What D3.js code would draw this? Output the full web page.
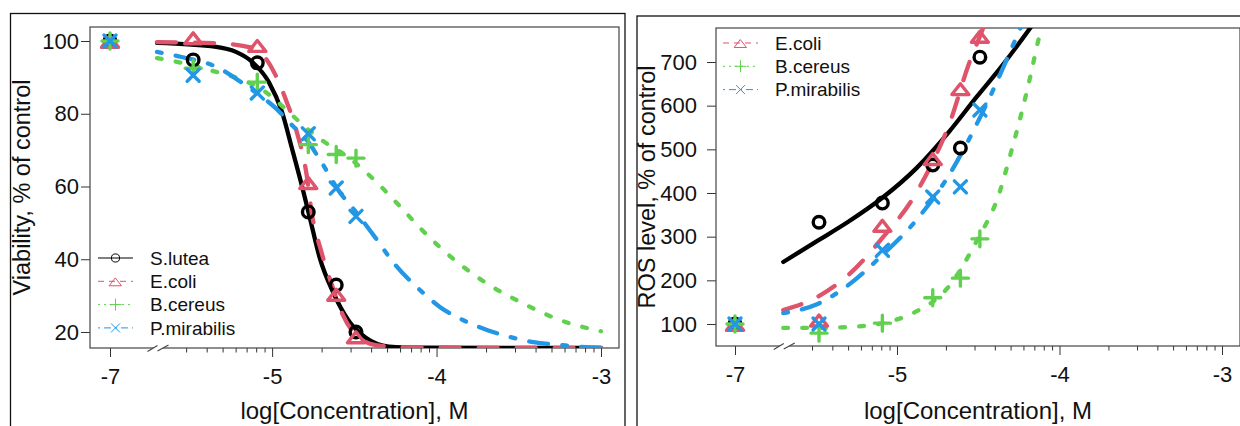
<!DOCTYPE html>
<html>
<head>
<meta charset="utf-8">
<script src="https://cdn.jsdelivr.net/npm/d3@7"></script>
<style>
  body { margin: 0; background: #fff; }
  svg { display: block; font-family: "Liberation Sans", Arial, Helvetica, sans-serif; }
</style>
</head>
<body>
<svg id="chart" width="1240" height="426"></svg>
<script>
// ---------------------------------------------------------------
// Data: log10 concentration (M); the untreated control sits on the
// broken part of the axis at -7.
// ---------------------------------------------------------------
const strains = ["S.lutea", "E.coli", "B.cereus", "P.mirabilis"];
const controlDose = -7;
const logDoses = [-5.48, -5.09, -4.78, -4.61, -4.49];

// Viability, % of control (control value first, then each dose)
const viabSLutea     = [100, 94.8, 94.0, 53.0, 32.9, 20.0];
const viabEColi      = [100, 101.0, 98.9, 61.2, 30.5, 18.8];
const viabBCereus    = [100, 92.5, 88.7, 71.5, 68.8, 67.8];
const viabPMirabilis = [100, 90.6, 85.7, 74.5, 59.6, 51.8];

// ROS level, % of control
const rosSLutea     = [100, 333, 377, 464, 503, 711];
const rosEColi      = [100, 110, 327, 480, 640, 760];
const rosBCereus    = [100, 79, 102, 160, 205, 295];
const rosPMirabilis = [100, 100, 269, 391, 414, 590];

// Fitted dose-response curves: [log10 dose, value]
const viabFitSLutea = [[-5.70, 99.5], [-5.34, 98.4], [-5.22, 97.0], [-5.12, 94.2], [-5.02, 88.7],
  [-4.94, 80.5], [-4.88, 70.6], [-4.82, 60.4], [-4.77, 51.3], [-4.71, 40.3], [-4.63, 31.0],
  [-4.53, 22.8], [-4.43, 18.4], [-4.29, 16.0], [-4.10, 15.7], [-3.50, 15.6], [-3.00, 15.6]];
const viabFitEColi = [[-5.70, 99.7], [-5.34, 99.4], [-5.14, 98.3], [-5.04, 95.3], [-4.98, 90.7],
  [-4.92, 84.3], [-4.85, 75.0], [-4.79, 63.2], [-4.76, 53.0], [-4.70, 42.0], [-4.63, 32.1],
  [-4.57, 24.7], [-4.49, 19.2], [-4.37, 16.4], [-4.20, 15.8], [-3.50, 15.6], [-3.00, 15.6]];
const viabFitBCereus = [[-5.70, 95.3], [-5.55, 94.0], [-5.34, 91.5], [-5.18, 89.3], [-5.04, 86.0],
  [-4.90, 80.5], [-4.79, 76.0], [-4.70, 72.8], [-4.53, 67.8], [-4.33, 59.6], [-4.23, 54.9],
  [-4.07, 47.2], [-3.89, 39.8], [-3.70, 33.5], [-3.48, 28.0], [-3.25, 23.3], [-3.00, 20.2]];
const viabFitPMirabilis = [[-5.70, 97.0], [-5.55, 95.6], [-5.34, 92.9], [-5.14, 87.1], [-4.98, 81.6],
  [-4.88, 76.9], [-4.79, 72.8], [-4.70, 66.7], [-4.59, 58.5], [-4.49, 53.0], [-4.37, 45.8],
  [-4.25, 38.4], [-4.10, 31.5], [-3.98, 26.9], [-3.84, 23.3], [-3.69, 20.5], [-3.55, 18.6],
  [-3.41, 17.2], [-3.24, 16.4], [-3.12, 15.9], [-3.00, 15.6]];

const rosFitSLutea = [[-5.70, 242], [-5.50, 288], [-5.30, 334], [-5.09, 389], [-4.88, 457],
  [-4.68, 540], [-4.51, 620], [-4.35, 693], [-4.18, 778], [-4.10, 820]];
const rosFitEColi = [[-5.70, 132], [-5.50, 160], [-5.30, 212], [-5.09, 297], [-4.89, 395],
  [-4.79, 464], [-4.68, 556], [-4.56, 693], [-4.47, 778], [-4.42, 830]];
const rosFitBCereus = [[-5.70, 91], [-5.49, 91], [-5.30, 93], [-5.09, 102], [-4.89, 127],
  [-4.69, 182], [-4.51, 290], [-4.37, 400], [-4.30, 491], [-4.24, 574], [-4.18, 666],
  [-4.13, 750], [-4.11, 778], [-4.09, 810]];
const rosFitPMirabilis = [[-5.70, 125], [-5.50, 144], [-5.30, 189], [-5.09, 258], [-4.89, 334],
  [-4.68, 441], [-4.52, 550], [-4.38, 659], [-4.30, 727], [-4.24, 778], [-4.20, 815]];

// Axis ticks
const xMajorTicks = [-7, -5, -4, -3];
const xMinorDecades = [-6, -5, -4];
const xMinorMultipliers = [2, 3, 4, 5, 6, 7, 8, 9];
const viabTicks = [20, 40, 60, 80, 100];
const rosTicks = [100, 200, 300, 400, 500, 600, 700];

// ---------------------------------------------------------------
// Styling per strain
// ---------------------------------------------------------------
const palette = { "S.lutea": "#000000", "E.coli": "#DF536B", "B.cereus": "#61D04F", "P.mirabilis": "#2297E6" };
const u = 4.75; // dash unit for thick fitted lines
const curveDash = { "S.lutea": null, "E.coli": [4 * u, 4 * u], "B.cereus": [u, 3 * u], "P.mirabilis": [u, 3 * u, 4 * u, 3 * u] };
const legendDash = { "S.lutea": null, "E.coli": [6, 5], "B.cereus": [2, 4], "P.mirabilis": [2, 4, 7, 4] };
const shapeOf = { "S.lutea": "circle", "E.coli": "triangle", "B.cereus": "plus", "P.mirabilis": "cross" };

function symbolPath(shape, k) {
  switch (shape) {
    case "triangle": { const w = 8.5 * k, h = 7.5 * k; return `M0,${-h * 0.6}L${w},${h * 0.85}L${-w},${h * 0.85}Z`; }
    case "plus": { const s = 8 * k; return `M${-s},0H${s}M0,${-s}V${s}`; }
    case "cross": { const s = 6 * k; return `M${-s},${-s}L${s},${s}M${-s},${s}L${s},${-s}`; }
    default: return null;
  }
}

function drawSymbol(g, shape, x, y, color, k, sw) {
  if (shape === "circle") {
    g.append("circle").attr("cx", x).attr("cy", y).attr("r", 5.8 * k)
      .attr("fill", "none").attr("stroke", color).attr("stroke-width", sw);
  } else {
    g.append("path").attr("transform", `translate(${x},${y})`).attr("d", symbolPath(shape, k))
      .attr("fill", "none").attr("stroke", color).attr("stroke-width", sw)
      .attr("stroke-linecap", "round").attr("stroke-linejoin", "round");
  }
}

const svg = d3.select("#chart");
const tickFont = 22;

function panel(cfg) {
  const { frame, box, xRange, yScale, yTicks, yTitle, values, fits, legendNames, legendPos } = cfg;

  // outer figure frame
  svg.append("rect").attr("x", frame.x).attr("y", frame.y).attr("width", frame.w).attr("height", frame.h)
    .attr("fill", "none").attr("stroke", "#111").attr("stroke-width", 1.3);

  const x = d3.scaleLinear().domain([controlDose, -5.7, -3]).range(xRange);
  const y = yScale;

  const clipId = "clip" + box.x0;
  svg.append("clipPath").attr("id", clipId).append("rect")
    .attr("x", box.x0).attr("y", box.y0).attr("width", box.x1 - box.x0).attr("height", box.y1 - box.y0);

  // y axis
  const yAxis = svg.append("g").attr("transform", `translate(${box.x0},0)`)
    .call(d3.axisLeft(y).tickValues(yTicks).tickSize(9).tickPadding(cfg.yPad).tickFormat(d3.format("d")));
  yAxis.select(".domain").remove();
  yAxis.selectAll("line").attr("stroke", "#333");
  yAxis.selectAll("text").attr("font-size", tickFont).attr("fill", "#111").attr("font-family", "Liberation Sans, Arial, sans-serif");

  // x axis: minor log ticks, then labelled major ticks
  const minor = [];
  xMinorDecades.forEach(dec => xMinorMultipliers.forEach(m => {
    const v = dec + Math.log10(m);
    if (v > -5.6 && v < -3) minor.push(v);
  }));
  const xMinor = svg.append("g").attr("transform", `translate(0,${box.y1})`)
    .call(d3.axisBottom(x).tickValues(minor).tickSize(4.5).tickFormat(""));
  xMinor.select(".domain").remove();
  xMinor.selectAll("line").attr("stroke", "#333");

  const xAxis = svg.append("g").attr("transform", `translate(0,${box.y1})`)
    .call(d3.axisBottom(x).tickValues(xMajorTicks).tickSize(9).tickPadding(11).tickFormat(d3.format("d")));
  xAxis.select(".domain").remove();
  xAxis.selectAll("line").attr("stroke", "#333");
  xAxis.selectAll("text").attr("font-size", tickFont).attr("fill", "#111").attr("font-family", "Liberation Sans, Arial, sans-serif")
    .text(d => (d < 0 ? "-" : "") + Math.abs(d));

  // plot box
  svg.append("rect").attr("x", box.x0).attr("y", box.y0).attr("width", box.x1 - box.x0).attr("height", box.y1 - box.y0)
    .attr("fill", "none").attr("stroke", "#444").attr("stroke-width", 1.2);

  // axis break marks on the bottom axis
  const bx = x(-5.7) + 1.5, by = box.y1;
  const brk = svg.append("g");
  brk.append("path").attr("d", `M${bx - 9},${by + 3.5}L${bx - 2},${by - 3}L${bx + 8},${by - 3.5}L${bx + 1},${by + 3}Z`)
    .attr("fill", "#fff");
  brk.append("path").attr("d", `M${bx - 11},${by + 3.5}L${bx - 1},${by - 2.5}M${bx - 1},${by + 3}L${bx + 10},${by - 3}`)
    .attr("stroke", "#444").attr("stroke-width", 1.1).attr("fill", "none");

  // axis titles
  svg.append("text").attr("x", (box.x0 + box.x1) / 2).attr("y", 419).attr("text-anchor", "middle")
    .attr("font-size", 24).attr("fill", "#111").text("log[Concentration], M");
  svg.append("text").attr("transform", `translate(${cfg.yTitleX},${(box.y0 + box.y1) / 2}) rotate(-90)`)
    .attr("text-anchor", "middle").attr("font-size", 23.5).attr("fill", "#111").text(yTitle);

  // fitted curves
  const plot = svg.append("g").attr("clip-path", `url(#${clipId})`);
  const line = d3.line().x(d => x(d[0])).y(d => y(d[1])).curve(d3.curveMonotoneX);
  strains.forEach(s => {
    plot.append("path").datum(fits[s]).attr("d", line).attr("fill", "none")
      .attr("stroke", palette[s]).attr("stroke-width", 4.3)
      .attr("stroke-linecap", "round").attr("stroke-linejoin", "round")
      .attr("stroke-dasharray", curveDash[s] ? curveDash[s].join(",") : null);
  });

  // observed points (control + doses)
  const pts = svg.append("g").attr("clip-path", `url(#${clipId})`);
  const doseAll = [controlDose].concat(logDoses);
  strains.forEach(s => {
    values[s].forEach((v, i) => drawSymbol(pts, shapeOf[s], x(doseAll[i]), y(v), palette[s], 1, 3.4));
  });

  // legend
  const lg = svg.append("g").attr("clip-path", `url(#${clipId})`);
  legendNames.forEach((s, i) => {
    const ly = legendPos.y + i * 23.3;
    lg.append("line").attr("x1", legendPos.x).attr("x2", legendPos.x + 35).attr("y1", ly).attr("y2", ly)
      .attr("stroke", palette[s]).attr("stroke-width", 1)
      .attr("stroke-dasharray", legendDash[s] ? legendDash[s].join(",") : null);
    drawSymbol(lg, shapeOf[s], legendPos.x + 17.5, ly, palette[s], 0.7, 1);
    lg.append("text").attr("x", legendPos.x + 52).attr("y", ly).attr("dy", "0.36em")
      .attr("font-size", 19).attr("fill", "#111").text(s);
  });
}

panel({
  frame: { x: 10.5, y: 13.5, w: 614.5, h: 440 },
  box: { x0: 90, x1: 619, y0: 27, y1: 348 },
  xRange: [110, 157, 601],
  yScale: d3.scaleLinear().domain([20, 100]).range([332, 41]),
  yTicks: viabTicks,
  yPad: 2,
  yTitle: "Viability, % of control",
  yTitleX: 30,
  values: { "S.lutea": viabSLutea, "E.coli": viabEColi, "B.cereus": viabBCereus, "P.mirabilis": viabPMirabilis },
  fits: { "S.lutea": viabFitSLutea, "E.coli": viabFitEColi, "B.cereus": viabFitBCereus, "P.mirabilis": viabFitPMirabilis },
  legendNames: strains,
  legendPos: { x: 98, y: 258 }
});

panel({
  frame: { x: 637, y: 16, w: 640, h: 440 },
  box: { x0: 716, x1: 1240, y0: 28, y1: 346 },
  xRange: [735, 783.25, 1222],
  yScale: d3.scaleLinear().domain([100, 700]).range([324, 62]),
  yTicks: rosTicks,
  yPad: 10,
  yTitle: "ROS level, % of control",
  yTitleX: 655,
  values: { "S.lutea": rosSLutea, "E.coli": rosEColi, "B.cereus": rosBCereus, "P.mirabilis": rosPMirabilis },
  fits: { "S.lutea": rosFitSLutea, "E.coli": rosFitEColi, "B.cereus": rosFitBCereus, "P.mirabilis": rosFitPMirabilis },
  legendNames: ["E.coli", "B.cereus", "P.mirabilis"],
  legendPos: { x: 723, y: 43 }
});
</script>
</body>
</html>
